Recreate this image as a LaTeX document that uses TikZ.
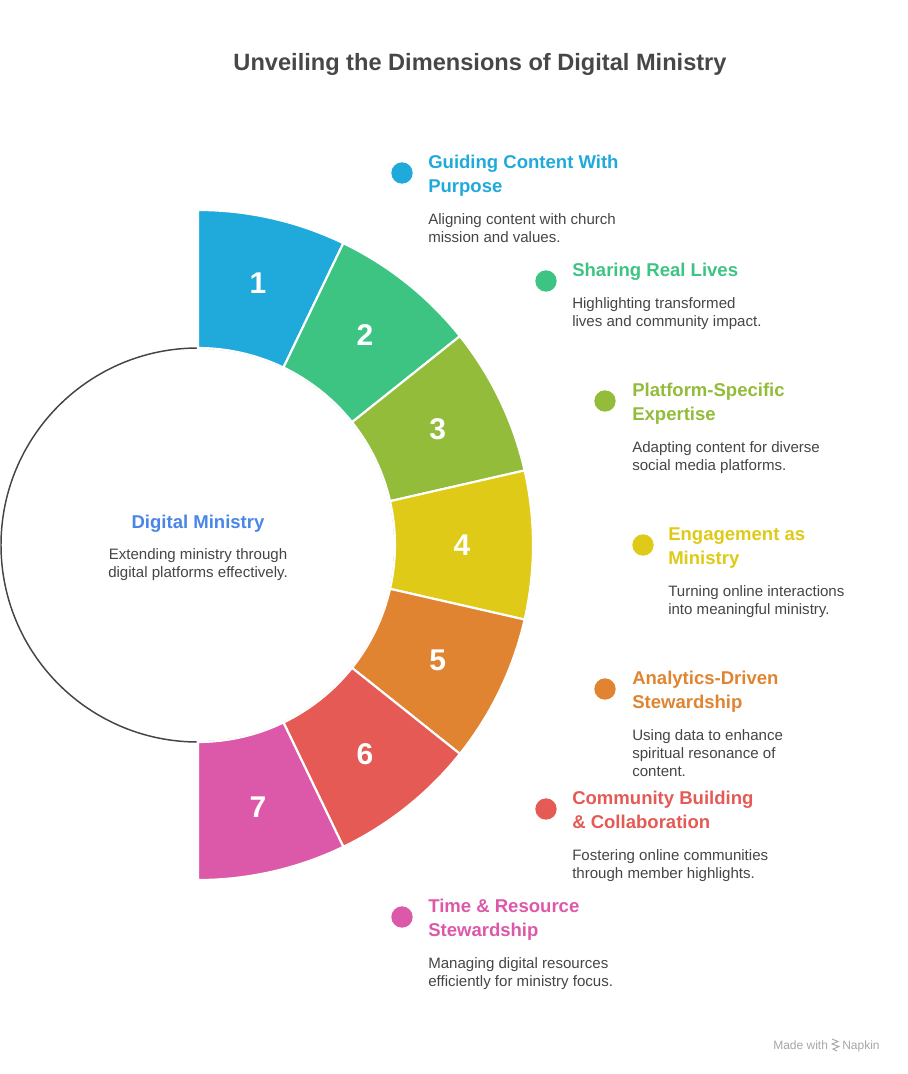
\documentclass[tikz,border=0pt]{standalone}
\usepackage{fontspec}
\setmainfont{Liberation Sans}
\usepackage{xcolor}
\definecolor{cone}{HTML}{20AADB}
\definecolor{ctwo}{HTML}{3DC483}
\definecolor{cthree}{HTML}{92BC3A}
\definecolor{cfour}{HTML}{DFCA17}
\definecolor{cfive}{HTML}{E08432}
\definecolor{csix}{HTML}{E55A55}
\definecolor{cseven}{HTML}{DC58A8}
\definecolor{chub}{HTML}{4A86E8}
\definecolor{cgray}{HTML}{454545}
\definecolor{ctitle}{HTML}{474747}

\begin{document}
\begin{tikzpicture}[x=0.75pt, y=0.75pt,
  dot/.style={circle, minimum size=16pt, inner sep=0},
  head/.style={anchor=north west, align=left, inner sep=0,
               font=\bfseries\fontsize{13.9}{18}\selectfont},
  txt/.style={anchor=north west, align=left, inner sep=0, text=cgray,
              font=\fontsize{11.3}{13.5}\selectfont},
  num/.style={text=white, font=\bfseries\fontsize{22.5}{22}\selectfont},
  seg/.style={draw=white, line width=1.6pt},
  brand/.style={font=\fontsize{9}{9}\selectfont, text=black!35, inner sep=0}]
\useasboundingbox (0,0) rectangle (907,-1074);
\node[font=\bfseries\fontsize{17.7}{20}\selectfont, text=ctitle, anchor=base] (title) at (480,-70.5)
  {Unveiling the Dimensions of Digital Ministry};
% hub and ring
\draw[fill=white, draw=cgray, line width=1.1pt] (198,-545) circle (197);
\begin{scope}[shift={(198,-545)}]
\fill[cone, seg]   (90:197) arc (90:64.29:197) -- (64.29:335) arc (64.29:90:335) -- cycle;
\fill[ctwo, seg]   (64.29:197) arc (64.29:38.57:197) -- (38.57:335) arc (38.57:64.29:335) -- cycle;
\fill[cthree, seg] (38.57:197) arc (38.57:12.86:197) -- (12.86:335) arc (12.86:38.57:335) -- cycle;
\fill[cfour, seg]  (12.86:197) arc (12.86:-12.86:197) -- (-12.86:335) arc (-12.86:12.86:335) -- cycle;
\fill[cfive, seg]  (-12.86:197) arc (-12.86:-38.57:197) -- (-38.57:335) arc (-38.57:-12.86:335) -- cycle;
\fill[csix, seg]   (-38.57:197) arc (-38.57:-64.29:197) -- (-64.29:335) arc (-64.29:-38.57:335) -- cycle;
\fill[cseven, seg] (-64.29:197) arc (-64.29:-90:197) -- (-90:335) arc (-90:-64.29:335) -- cycle;
\node[num] (n1) at (77.14:269)  {1};
\node[num] (n2) at (51.43:268)  {2};
\node[num] (n3) at (25.71:266)  {3};
\node[num] (n4) at (0:264)      {4};
\node[num] (n5) at (-25.71:266) {5};
\node[num] (n6) at (-51.43:268) {6};
\node[num] (n7) at (-77.14:269) {7};
\end{scope}
\node[head, text=chub, anchor=base] (hub) at (198,-528) {Digital Ministry};
\node[txt, anchor=north, align=center] (hubtxt) at (198,-548.5)
  {Extending ministry through\\digital platforms effectively.};
% labels
\node[dot, fill=cone] (d1) at (402,-173) {};
\node[head, text=cone] (h1) at (428,-155) {Guiding Content With\\Purpose};
\node[txt] (t1) at (428,-213.5) {Aligning content with church\\mission and values.};
\node[dot, fill=ctwo] (d2) at (546,-281) {};
\node[head, text=ctwo] (h2) at (572,-263) {Sharing Real Lives};
\node[txt] (t2) at (572,-297.5) {Highlighting transformed\\lives and community impact.};
\node[dot, fill=cthree] (d3) at (605,-401) {};
\node[head, text=cthree] (h3) at (632,-383) {Platform-Specific\\Expertise};
\node[txt] (t3) at (632,-441.5) {Adapting content for diverse\\social media platforms.};
\node[dot, fill=cfour] (d4) at (643,-545) {};
\node[head, text=cfour] (h4) at (668,-527) {Engagement as\\Ministry};
\node[txt] (t4) at (668,-585.5) {Turning online interactions\\into meaningful ministry.};
\node[dot, fill=cfive] (d5) at (605,-689) {};
\node[head, text=cfive] (h5) at (632,-671) {Analytics-Driven\\Stewardship};
\node[txt] (t5) at (632,-729.5) {Using data to enhance\\spiritual resonance of\\content.};
\node[dot, fill=csix] (d6) at (546,-809) {};
\node[head, text=csix] (h6) at (572,-791) {Community Building\\\& Collaboration};
\node[txt] (t6) at (572,-849.5) {Fostering online communities\\through member highlights.};
\node[dot, fill=cseven] (d7) at (402,-917) {};
\node[head, text=cseven] (h7) at (428,-899) {Time \& Resource\\Stewardship};
\node[txt] (t7) at (428,-957.5) {Managing digital resources\\efficiently for ministry focus.};
% footer
\node[brand, anchor=base west] (made) at (773,-1049) {Made with};
\node[brand, anchor=base west] (napkin) at (842,-1049) {Napkin};
\draw[black!35, line width=0.7pt] (832,-1039) -- (838,-1041.5) -- (832,-1044) -- (839,-1046.5) -- (833,-1049) -- (837,-1051);
\end{tikzpicture}
\end{document}
